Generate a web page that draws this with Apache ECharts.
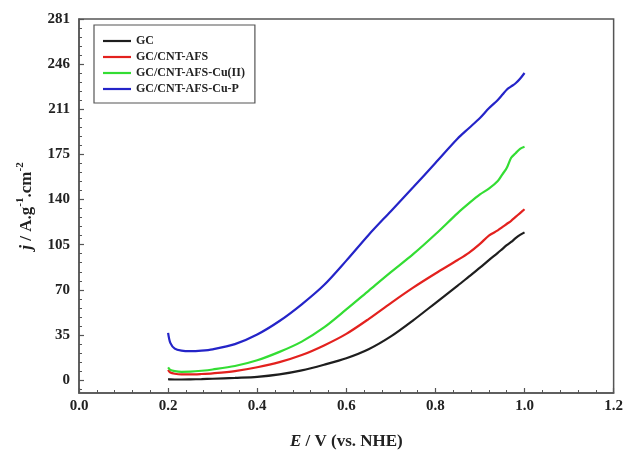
<!DOCTYPE html>
<html>
<head>
<meta charset="utf-8">
<script src="https://cdn.jsdelivr.net/npm/echarts@6/dist/echarts.min.js"></script>
<style>
  html, body { margin: 0; padding: 0; background: #fff; }
  #chart { width: 626px; height: 455px; }
</style>
</head>
<body>
<div id="chart"></div>
<script>
// Potential grid (V vs. NHE) shared by all four polarisation curves
const potential = [0.200, 0.205, 0.215, 0.230, 0.250, 0.275, 0.300, 0.350, 0.400, 0.450,
                   0.500, 0.550, 0.600, 0.650, 0.700, 0.750, 0.800, 0.850, 0.875, 0.900,
                   0.920, 0.940, 0.950, 0.960, 0.970, 0.980, 0.990, 1.000];

// Current density j (A.g^-1.cm^-2) for each electrode
const gc        = [0.8, 0.6, 0.5, 0.5, 0.6, 0.8, 1.1, 1.8, 2.6, 4.5,
                   7.6, 12.0, 17.0, 24.0, 34.0, 46.5, 60.0, 73.5, 80.5, 87.5,
                   93.4, 99.0, 102.0, 105.0, 107.5, 110.5, 113.0, 115.0];
const gcCnt     = [8.0, 6.0, 5.0, 4.5, 4.5, 4.8, 5.3, 7.0, 10.0, 14.0,
                   19.5, 27.0, 36.0, 47.5, 60.0, 72.0, 83.0, 93.5, 99.0, 106.0,
                   112.5, 116.5, 119.0, 121.5, 124.0, 127.0, 130.0, 133.0];
const gcCntCu   = [9.9, 8.0, 7.0, 6.5, 6.6, 7.3, 8.3, 11.0, 15.5, 22.0,
                   30.0, 41.0, 55.0, 69.5, 84.0, 98.0, 113.5, 130.0, 137.5, 144.5,
                   149.0, 155.0, 160.0, 165.0, 173.0, 176.5, 180.0, 181.6];
const gcCntCuP  = [36.8, 29.0, 24.5, 23.0, 22.6, 23.0, 24.0, 28.0, 35.5, 46.0,
                   59.0, 74.0, 93.0, 113.0, 131.5, 150.0, 169.0, 188.0, 196.0, 204.0,
                   211.5, 218.0, 222.0, 226.0, 228.5, 231.0, 234.5, 239.0];

const seriesNames  = ['GC', 'GC/CNT-AFS', 'GC/CNT-AFS-Cu(II)', 'GC/CNT-AFS-Cu-P'];
const seriesColors = ['#1e1e1e', '#e3211e', '#33dd33', '#2424c8'];

// Y axis: labelled ticks and the minor ticks between them
const yTickValues = [0, 35.125, 70.25, 105.375, 140.5, 175.625, 210.75, 245.875, 281];
const yTickLabels = ['0', '35', '70', '105', '140', '175', '211', '246', '281'];
const yMinorValues = [-7.025, 7.025, 14.05, 21.075, 28.1, 42.15, 49.175, 56.2, 63.225,
                      77.3, 84.325, 91.35, 98.375, 112.425, 119.45, 126.475, 133.5,
                      147.55, 154.575, 161.6, 168.625, 182.675, 189.7, 196.725, 203.75,
                      217.8, 224.825, 231.85, 238.875, 252.925, 259.95, 266.975, 274.0];

const serif = '"Liberation Serif", "DejaVu Serif", serif';
const ink = '#222';
const frame = '#555';

function pairs(values) {
  return potential.map((e, i) => [e, values[i]]);
}

const chart = echarts.init(document.getElementById('chart'), null, { renderer: 'canvas' });

chart.setOption({
  animation: false,
  backgroundColor: '#fff',
  grid: {
    left: 79, top: 19, width: 536, height: 374,
    show: true, borderColor: frame, borderWidth: 1.5, backgroundColor: 'transparent'
  },
  legend: {
    orient: 'vertical',
    left: 94, top: 25,
    padding: [10, 10, 8, 9],
    itemWidth: 28, itemHeight: 12, itemGap: 4,
    icon: 'path://M0,0H28V2.2H0Z',
    borderColor: frame, borderWidth: 1.2,
    backgroundColor: '#fff',
    data: seriesNames,
    textStyle: { fontFamily: serif, fontWeight: 'bold', fontSize: 12, color: ink }
  },
  xAxis: {
    type: 'value',
    min: 0, max: 1.2, interval: 0.2,
    name: '{i|E} / V (vs. NHE)',
    nameLocation: 'middle',
    nameGap: 40,
    nameTextStyle: {
      fontFamily: serif, fontWeight: 'bold', fontSize: 17, color: ink,
      rich: { i: { fontFamily: serif, fontWeight: 'bold', fontStyle: 'italic', fontSize: 17, color: ink } }
    },
    axisLine: { onZero: false, lineStyle: { color: frame, width: 1.5 } },
    axisTick: { inside: true, length: 5, lineStyle: { color: frame, width: 1.2 } },
    minorTick: { show: true, splitNumber: 5, length: 3, lineStyle: { color: frame, width: 1 } },
    splitLine: { show: false },
    axisLabel: {
      margin: 6,
      fontFamily: serif, fontWeight: 'bold', fontSize: 15, color: ink,
      formatter: v => v.toFixed(1)
    }
  },
  yAxis: [
    {
      type: 'value',
      min: -10, max: 281,
      name: '{i|j} / A.g{sup|-1}.cm{sup|-2}',
      nameLocation: 'middle',
      nameGap: 41,
      nameRotate: 90,
      nameTextStyle: {
        fontFamily: serif, fontWeight: 'bold', fontSize: 17, color: ink,
        rich: {
          i: { fontFamily: serif, fontWeight: 'bold', fontStyle: 'italic', fontSize: 17, color: ink },
          sup: { fontFamily: serif, fontWeight: 'bold', fontSize: 11, color: ink, padding: [0, 0, 12, 0] }
        }
      },
      axisLine: { show: true, onZero: false, lineStyle: { color: frame, width: 1.5 } },
      axisTick: {
        inside: true, length: 5, customValues: yTickValues,
        lineStyle: { color: frame, width: 1.2 }
      },
      splitLine: { show: false },
      axisLabel: {
        margin: 9,
        customValues: yTickValues,
        fontFamily: serif, fontWeight: 'bold', fontSize: 15, color: ink,
        formatter: v => {
          const k = yTickValues.findIndex(t => Math.abs(t - v) < 1e-6);
          return k >= 0 ? yTickLabels[k] : '';
        }
      }
    },
    {
      // minor ticks along the left edge
      type: 'value',
      position: 'left',
      min: -10, max: 281,
      axisLine: { show: false, onZero: false },
      axisTick: {
        show: true, inside: true, length: 3, customValues: yMinorValues,
        lineStyle: { color: frame, width: 1 }
      },
      axisLabel: { show: false },
      splitLine: { show: false }
    }
  ],
  series: [gc, gcCnt, gcCntCu, gcCntCuP].map((vals, i) => ({
    name: seriesNames[i],
    type: 'line',
    yAxisIndex: 0,
    data: pairs(vals),
    symbol: 'none',
    smooth: 0.3,
    color: seriesColors[i],
    lineStyle: { color: seriesColors[i], width: 2.2 }
  }))
});
</script>
</body>
</html>
